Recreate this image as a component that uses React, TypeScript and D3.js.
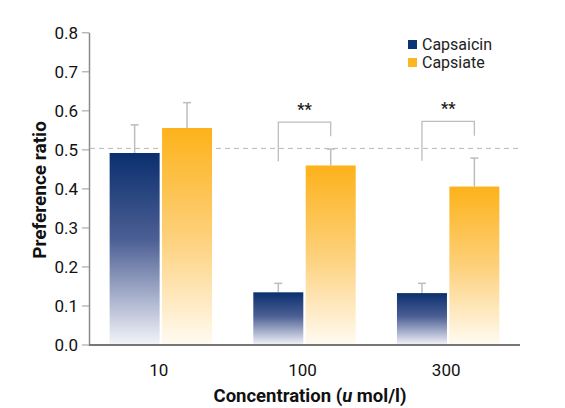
import React from "react";
import * as d3 from "d3";

const categories = ["10", "100", "300"];
const seriesNames = ["Capsaicin", "Capsiate"];
const capsaicinValues = [0.492, 0.135, 0.133];
const capsaicinErrors = [0.072, 0.023, 0.025];
const capsiateValues = [0.556, 0.46, 0.406];
const capsiateErrors = [0.065, 0.042, 0.073];
const yTicks = [0, 0.1, 0.2, 0.3, 0.4, 0.5, 0.6, 0.7, 0.8];
const significance = [
  { category: "100", label: "**", level: 0.571, leftEnd: 0.471, rightEnd: 0.535 },
  { category: "300", label: "**", level: 0.573, leftEnd: 0.472, rightEnd: 0.536 },
];
const referenceLine = 0.5;

const W = 565;
const H = 408;
const FONT = "Roboto, 'Open Sans', sans-serif";

export default function App() {
  const x = d3.scaleBand<string>().domain(categories).range([89, 520]).padding(0);
  const y = d3.scaleLinear().domain([0, 0.8]).range([345, 32.8]);
  const barW = 50;
  const gap = 2.4;

  const series = [
    { name: seriesNames[0], values: capsaicinValues, errors: capsaicinErrors, grad: "gNavy", color: "#0c3472" },
    { name: seriesNames[1], values: capsiateValues, errors: capsiateErrors, grad: "gOrange", color: "#fdb622" },
  ];
  const barX = (cat: string, si: number) => {
    const c = (x(cat) as number) + x.bandwidth() / 2;
    return si === 0 ? c - gap / 2 - barW : c + gap / 2;
  };

  return (
    <svg width={W} height={H} style={{ position: "absolute", left: 0, top: 0, background: "#fff" }}>
      <defs>
        <linearGradient id="gNavy" x1="0" y1="0" x2="0" y2="1">
          <stop offset="0%" stopColor="#0a2f6e" />
          <stop offset="45%" stopColor="#4c5f94" />
          <stop offset="100%" stopColor="#f4f4fa" />
        </linearGradient>
        <linearGradient id="gOrange" x1="0" y1="0" x2="0" y2="1">
          <stop offset="0%" stopColor="#fdb21a" />
          <stop offset="50%" stopColor="#fdd07a" />
          <stop offset="100%" stopColor="#fffbf2" />
        </linearGradient>
      </defs>

      {/* y axis */}
      <line x1={89.5} x2={89.5} y1={y(0.8)} y2={y(0)} stroke="#8a8a8a" strokeWidth={1.5} />
      {yTicks.map((t) => (
        <g key={t}>
          <line x1={82} x2={89} y1={y(t)} y2={y(t)} stroke="#9a9a9a" strokeWidth={1} />
          <text x={78} y={y(t)} dy="0.36em" textAnchor="end" fontFamily={FONT} fontSize={17} fill="#111">
            {t.toFixed(1)}
          </text>
        </g>
      ))}

      {/* reference dashed line */}
      <line x1={90} x2={520} y1={y(referenceLine) - 1.5} y2={y(referenceLine) - 1.5} stroke="#b8b8b8" strokeWidth={1} strokeDasharray="5,4" />

      {/* bars and error bars */}
      {series.map((s, si) =>
        categories.map((cat, i) => {
          const bx = barX(cat, si);
          const top = y(s.values[i]);
          const cap = y(s.values[i] + s.errors[i]);
          const cx = bx + barW / 2;
          return (
            <g key={s.name + cat}>
              <line x1={cx} x2={cx} y1={top} y2={cap} stroke="#bdbdbd" strokeWidth={1.5} />
              <line x1={cx - 4} x2={cx + 4} y1={cap} y2={cap} stroke="#bdbdbd" strokeWidth={1.5} />
              <rect x={bx} y={top} width={barW} height={y(0) - top} fill={`url(#${s.grad})`} />
            </g>
          );
        })
      )}

      {/* significance brackets */}
      {significance.map((sg) => {
        const lx = barX(sg.category, 0) + barW / 2;
        const rx = barX(sg.category, 1) + barW / 2;
        const ly = y(sg.level);
        return (
          <g key={sg.category}>
            <path
              d={`M${lx},${y(sg.leftEnd)}V${ly}H${rx}V${y(sg.rightEnd)}`}
              fill="none"
              stroke="#bdbdbd"
              strokeWidth={1.3}
            />
            <text x={(lx + rx) / 2} y={ly - 7} textAnchor="middle" fontFamily={FONT} fontSize={16} fontWeight={700} fill="#222">
              {sg.label}
            </text>
          </g>
        );
      })}

      {/* x axis */}
      <line x1={89} x2={520} y1={345} y2={345} stroke="#777" strokeWidth={2.2} />
      {categories.map((c) => (
        <text key={c} x={(x(c) as number) + x.bandwidth() / 2 - 2} y={376} textAnchor="middle" fontFamily={FONT} fontSize={17} fill="#111">
          {c}
        </text>
      ))}

      {/* axis titles */}
      <text x={310} y={402} textAnchor="middle" fontFamily={FONT} fontSize={18.5} fontWeight={700} fill="#111">
        Concentration (<tspan fontStyle="italic">u</tspan> mol/l)
      </text>
      <text transform="translate(46,190) rotate(-90)" textAnchor="middle" fontFamily={FONT} fontSize={19} fontWeight={700} fill="#111">
        Preference ratio
      </text>

      {/* legend */}
      {series.map((s, si) => (
        <g key={s.name} transform={`translate(408,${40 + si * 18})`}>
          <rect x={0} y={0} width={9} height={9} fill={s.color} />
          <text x={14} y={9.5} fontFamily={FONT} fontSize={16} fill="#222">
            {s.name}
          </text>
        </g>
      ))}
    </svg>
  );
}
